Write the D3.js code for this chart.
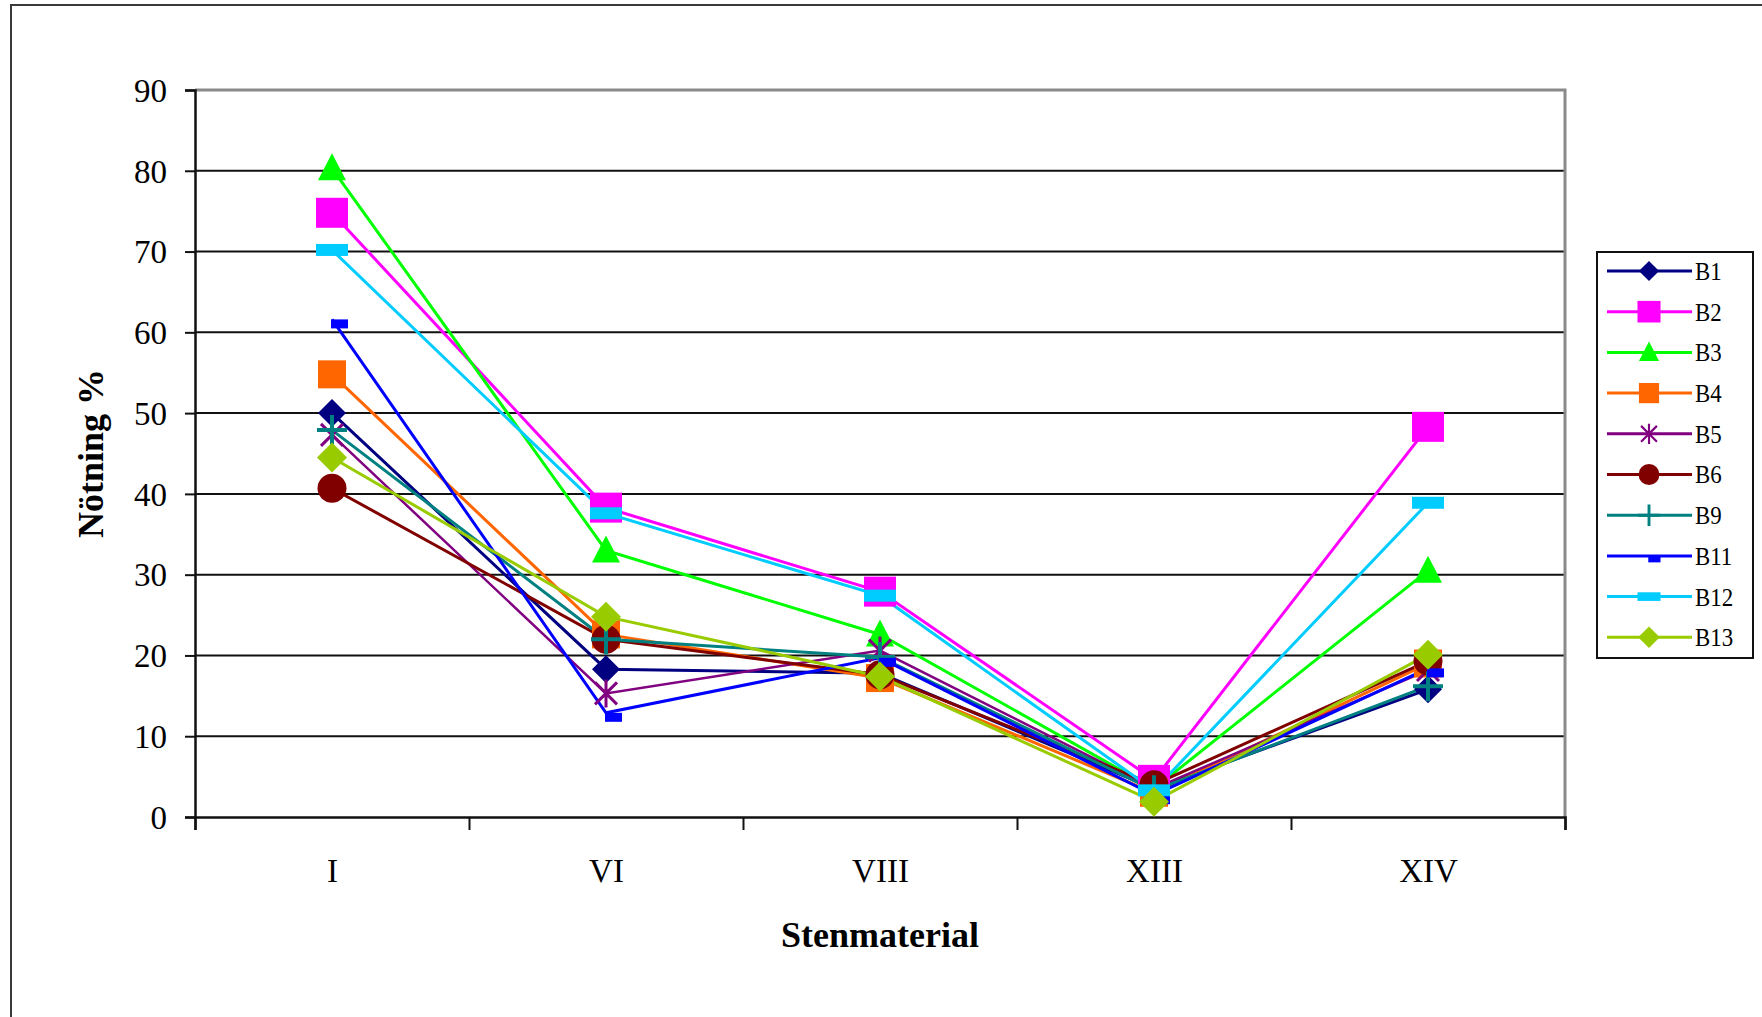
<!DOCTYPE html>
<html>
<head>
<meta charset="utf-8">
<script src="https://cdn.jsdelivr.net/npm/d3@7"></script>
<style>
  html, body { margin: 0; padding: 0; background: #fff; }
  svg { display: block; }
</style>
</head>
<body>
<svg id="chart" width="1762" height="1017"></svg>
<script>
// ---- data ----
const categories = ["I", "VI", "VIII", "XIII", "XIV"];
const seriesNames = ["B1", "B2", "B3", "B4", "B5", "B6", "B9", "B11", "B12", "B13"];
const B1  = [50.0, 18.3, 17.8, 3.5, 15.8];
const B2  = [74.8, 38.3, 27.9, 4.6, 48.3];
const B3  = [80.3, 33.0, 22.6, 3.5, 30.5];
const B4  = [54.8, 22.6, 17.2, 3.0, 19.0];
const B5  = [47.3, 15.3, 20.6, 3.5, 18.2];
const B6  = [40.7, 22.0, 17.6, 4.0, 19.3];
const B9  = [47.9, 22.0, 19.8, 3.3, 16.2];
const B11 = [61.6, 12.9, 19.7, 2.7, 18.4];
const B12 = [70.2, 37.6, 27.4, 3.3, 38.9];
const B13 = [44.5, 24.8, 17.4, 1.9, 20.1];
const yTicks = [0, 10, 20, 30, 40, 50, 60, 70, 80, 90];
const yTitle = "Nötning %";
const xTitle = "Stenmaterial";

const seriesValues = [B1, B2, B3, B4, B5, B6, B9, B11, B12, B13];
const colors = ["#000080", "#FF00FF", "#00FF00", "#FF6600", "#800080", "#800000", "#008080", "#0000FF", "#00CCFF", "#99CC00"];
const markers = ["diamond", "bigsquare", "triangle", "square", "star", "circle", "plus", "dash", "wide", "diamond2"];

const series = seriesNames.map((n, i) => ({ name: n, values: seriesValues[i], color: colors[i], marker: markers[i] }));

// ---- layout ----
const svg = d3.select("#chart");
const L = 195, R = 1565, T = 90, B = 817;
const FONT = "'Liberation Serif', 'Times New Roman', serif";

// outer frame (only left/top visible)
svg.append("rect").attr("x", 11).attr("y", 5).attr("width", 1800).attr("height", 1100)
  .attr("fill", "none").attr("stroke", "#3a3a3a").attr("stroke-width", 2);

const x = d3.scaleBand().domain(categories).range([L, R]).padding(0);
const xc = c => x(c) + x.bandwidth() / 2;
const y = d3.scaleLinear().domain([0, 90]).range([B, T]);

// gridlines
svg.append("g").selectAll("line").data(yTicks.filter(t => t > 0 && t < 90)).join("line")
  .attr("x1", L).attr("x2", R).attr("y1", d => y(d)).attr("y2", d => y(d))
  .attr("stroke", "#111").attr("stroke-width", 2);

// plot area border top/right (gray)
svg.append("path").attr("d", `M${L},${y(90)}H${R}V${B}`).attr("fill", "none")
  .attr("stroke", "#8a8a8a").attr("stroke-width", 3);

// y axis
const yAxis = svg.append("g").attr("transform", `translate(${L},0)`)
  .call(d3.axisLeft(y).tickValues(yTicks).tickSize(10).tickPadding(18).tickFormat(d3.format("d")));
yAxis.select(".domain").attr("stroke", "#111").attr("stroke-width", 2.5);
yAxis.selectAll(".tick line").attr("stroke", "#111").attr("stroke-width", 2);
yAxis.selectAll(".tick text").attr("font-family", FONT).attr("font-size", 33).attr("fill", "#000").attr("dy", "0.34em");

// x axis: boundary ticks
const xb = d3.scaleLinear().domain([0, categories.length]).range([L, R]);
const xAxis = svg.append("g").attr("transform", `translate(0,${B})`)
  .call(d3.axisBottom(xb).tickValues(d3.range(categories.length + 1)).tickSize(13).tickFormat(""));
xAxis.select(".domain").attr("stroke", "#111").attr("stroke-width", 2.5);
xAxis.selectAll(".tick line").attr("stroke", "#111").attr("stroke-width", 2);

// x category labels
const xLab = svg.append("g").attr("transform", `translate(0,${B})`)
  .call(d3.axisBottom(d3.scalePoint().domain(categories).range([xc(categories[0]), xc(categories[categories.length - 1])])).tickSize(0).tickPadding(0));
xLab.select(".domain").remove();
xLab.selectAll(".tick text").attr("font-family", FONT).attr("font-size", 33).attr("fill", "#000").attr("y", 65).attr("dy", 0);

// axis titles
svg.append("text").attr("x", (L + R) / 2).attr("y", 947).attr("text-anchor", "middle")
  .attr("font-family", FONT).attr("font-weight", "bold").attr("font-size", 36).text(xTitle);
svg.append("text").attr("transform", `translate(103,${(T + B) / 2}) rotate(-90)`).attr("text-anchor", "middle")
  .attr("font-family", FONT).attr("font-weight", "bold").attr("font-size", 36).text(yTitle);

// lines
const line = d3.line().x((d, i) => xc(categories[i])).y(d => y(d));
svg.append("g").selectAll("path").data(series).join("path")
  .attr("d", s => line(s.values)).attr("fill", "none")
  .attr("stroke", s => s.color).attr("stroke-width", s => s.name === "B5" ? 2.5 : 3);

// markers
function drawMarker(g, type, color, cx, cy) {
  switch (type) {
    case "diamond":
      g.append("path").attr("d", `M${cx},${cy - 14}L${cx + 14},${cy}L${cx},${cy + 14}L${cx - 14},${cy}Z`).attr("fill", color); break;
    case "diamond2":
      g.append("path").attr("d", `M${cx},${cy - 15}L${cx + 15},${cy}L${cx},${cy + 15}L${cx - 15},${cy}Z`).attr("fill", color); break;
    case "bigsquare":
      g.append("rect").attr("x", cx - 16).attr("y", cy - 15).attr("width", 32).attr("height", 30).attr("fill", color); break;
    case "square":
      g.append("rect").attr("x", cx - 14).attr("y", cy - 14).attr("width", 28).attr("height", 28).attr("fill", color); break;
    case "triangle":
      g.append("path").attr("d", `M${cx},${cy - 15}L${cx + 14},${cy + 12}L${cx - 14},${cy + 12}Z`).attr("fill", color); break;
    case "circle":
      g.append("circle").attr("cx", cx).attr("cy", cy).attr("r", 14.5).attr("fill", color); break;
    case "plus":
      g.append("path").attr("d", `M${cx - 15},${cy}H${cx + 15}M${cx},${cy - 15}V${cy + 15}`).attr("stroke", color).attr("stroke-width", 4).attr("fill", "none"); break;
    case "star":
      g.append("path").attr("d", `M${cx - 11},${cy - 11}L${cx + 11},${cy + 11}M${cx - 11},${cy + 11}L${cx + 11},${cy - 11}M${cx},${cy - 14}V${cy + 14}`)
        .attr("stroke", color).attr("stroke-width", 3).attr("fill", "none"); break;
    case "dash":
      g.append("rect").attr("x", cx - 1).attr("y", cy).attr("width", 17).attr("height", 9).attr("fill", color); break;
    case "wide":
      g.append("rect").attr("x", cx - 16).attr("y", cy - 6).attr("width", 32).attr("height", 12).attr("fill", color); break;
  }
}
const mg = svg.append("g");
series.forEach(s => {
  s.values.forEach((v, i) => drawMarker(mg, s.marker, s.color, xc(categories[i]), y(v)));
});

// legend
const lg = svg.append("g");
lg.append("rect").attr("x", 1597).attr("y", 252).attr("width", 156).attr("height", 406)
  .attr("fill", "#fff").attr("stroke", "#111").attr("stroke-width", 2);
series.forEach((s, i) => {
  const ly = 271 + i * 40.7;
  lg.append("line").attr("x1", 1607).attr("x2", 1692).attr("y1", ly).attr("y2", ly)
    .attr("stroke", s.color).attr("stroke-width", 3);
  const sub = lg.append("g").attr("transform", `translate(1649,${ly}) scale(0.72)`);
  drawMarker(sub, s.marker, s.color, 0, 0);
  lg.append("text").attr("x", 1695).attr("y", ly + 9).attr("font-family", FONT).attr("font-size", 26)
    .attr("transform", `translate(${1695 * 0.12},0) scale(0.88,1)`).attr("fill", "#000").text(s.name);
});
</script>
</body>
</html>
